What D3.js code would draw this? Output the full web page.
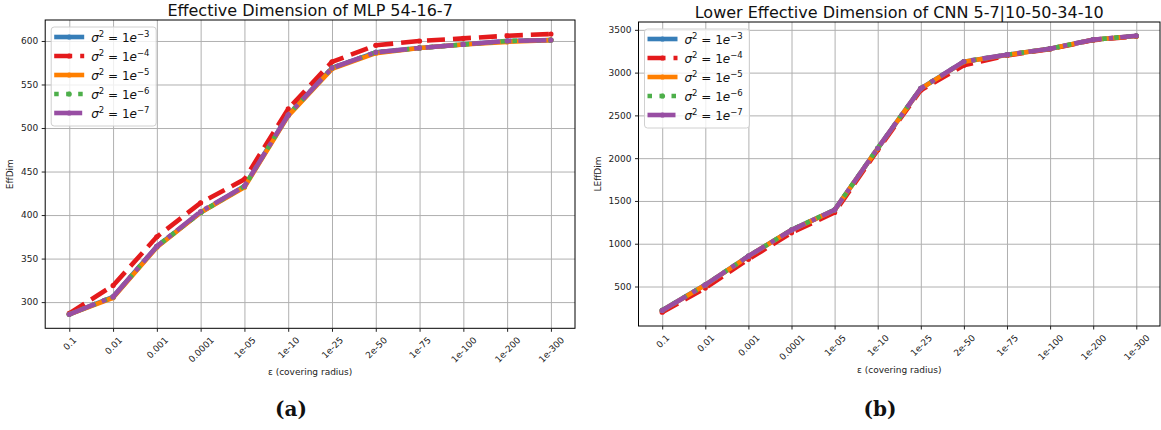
<!DOCTYPE html>
<html>
<head>
<meta charset="utf-8">
<script src="https://cdn.jsdelivr.net/npm/d3@7"></script>
<style>
  body { margin: 0; background: #fff; }
  svg { display: block; }
</style>
</head>
<body>
<div class="chart"></div>
<script>
// covering radius categories (shared by both panels)
var categories = ["0.1", "0.01", "0.001", "0.0001", "1e-05", "1e-10", "1e-25", "2e-50", "1e-75", "1e-100", "1e-200", "1e-300"];

// left panel: Effective Dimension of MLP 54-16-7
var mlpS3 = [286, 306, 364, 403, 433, 515, 569, 587, 592, 596, 600, 601];
var mlpS4 = [287, 319, 375, 414, 441, 522, 576, 595, 600, 603, 606, 608];
var mlpS5 = [286, 305, 363, 403, 432, 514, 568, 586, 592, 596, 599, 601];
var mlpS6 = [286, 306, 364, 403, 433, 515, 569, 587, 592, 596, 600, 601];
var mlpS7 = [286, 306, 364, 404, 433, 515, 569, 587, 592, 596, 600, 601];
var mlpTicks = [300, 350, 400, 450, 500, 550, 600];

// right panel: Lower Effective Dimension of CNN
var cnnS3 = [222, 520, 855, 1162, 1395, 2115, 2815, 3128, 3208, 3280, 3385, 3428];
var cnnS4 = [200, 482, 818, 1128, 1366, 2095, 2795, 3085, 3200, 3275, 3380, 3424];
var cnnS5 = [220, 518, 853, 1160, 1393, 2113, 2813, 3126, 3206, 3279, 3384, 3428];
var cnnS6 = [221, 520, 855, 1162, 1395, 2116, 2816, 3130, 3208, 3280, 3385, 3430];
var cnnS7 = [220, 519, 855, 1160, 1394, 2115, 2815, 3130, 3208, 3280, 3385, 3430];
var cnnTicks = [500, 1000, 1500, 2000, 2500, 3000, 3500];

var seriesNames = ["-3", "-4", "-5", "-6", "-7"];

// style per series (Set1 colours, matplotlib dash patterns)
var styles = [
  { color: "#377eb8", dash: null },
  { color: "#e41a1c", dash: "18,8" },
  { color: "#ff7f00", dash: null },
  { color: "#4daf4a", dash: "4.5,7.5" },
  { color: "#984ea3", dash: "28,7,4.5,7" }
];
var lw = 4.6;

var svgWidth = 1161;
var svgHeight = 430;

var svg = d3.select(".chart")
  .append("svg")
  .attr("width", svgWidth)
  .attr("height", svgHeight)
  .style("font-family", "'DejaVu Sans', sans-serif");

var panels = [
  { title: "Effective Dimension of MLP 54-16-7", ylabel: "EffDim", series: [mlpS3, mlpS4, mlpS5, mlpS6, mlpS7],
    ticks: mlpTicks, left: 45.2, right: 575, top: 20, bottom: 328.3, caption: "(a)", capX: 291, ylabOff: 32 },
  { title: "Lower Effective Dimension of CNN 5-7|10-50-34-10", ylabel: "LEffDim", series: [cnnS3, cnnS4, cnnS5, cnnS6, cnnS7],
    ticks: cnnTicks, left: 638.5, right: 1160, top: 22, bottom: 326, caption: "(b)", capX: 880, ylabOff: 38 }
];

panels.forEach(function(p) {
  var w = p.right - p.left;
  var h = p.bottom - p.top;

  var g = svg.append("g")
    .attr("transform", `translate(${p.left}, ${p.top})`);

  var x = d3.scalePoint()
    .domain(categories)
    .range([0, w])
    .padding(0.55);

  // y domain like matplotlib autoscale: data extent + 5% margins
  var all = d3.merge(p.series);
  var lo = d3.min(all), hi = d3.max(all);
  var pad = (hi - lo) * 0.05;
  var y = d3.scaleLinear()
    .domain([lo - pad, hi + pad])
    .range([h, 0]);

  // grid
  g.append("g")
    .attr("class", "grid")
    .attr("transform", `translate(0, ${h})`)
    .call(d3.axisBottom(x).tickSize(-h).tickFormat(""))
    .call(function(s) { s.select(".domain").remove(); });
  g.append("g")
    .attr("class", "grid")
    .call(d3.axisLeft(y).tickValues(p.ticks).tickSize(-w).tickFormat(""))
    .call(function(s) { s.select(".domain").remove(); });
  g.selectAll(".grid line").attr("stroke", "#b0b0b0").attr("stroke-width", 1);

  // lines
  var line = d3.line()
    .x(function(d, i) { return x(categories[i]); })
    .y(function(d) { return y(d); });

  p.series.forEach(function(vals, k) {
    var st = styles[k];
    g.append("path")
      .datum(vals)
      .attr("d", line)
      .attr("fill", "none")
      .attr("stroke", st.color)
      .attr("stroke-width", lw)
      .attr("stroke-dasharray", st.dash)
      .attr("stroke-linejoin", "round");
    g.append("g")
      .selectAll("circle")
      .data(vals)
      .join("circle")
      .attr("cx", function(d, i) { return x(categories[i]); })
      .attr("cy", function(d) { return y(d); })
      .attr("r", 2.6)
      .attr("fill", st.color);
  });

  // spines
  g.append("rect")
    .attr("width", w)
    .attr("height", h)
    .attr("fill", "none")
    .attr("stroke", "#000")
    .attr("stroke-width", 1);

  // x axis
  var xa = g.append("g")
    .attr("transform", `translate(0, ${h})`)
    .call(d3.axisBottom(x).tickSize(3.5).tickPadding(3.5));
  xa.select(".domain").remove();
  xa.selectAll("text")
    .attr("font-size", 9)
    .attr("font-family", "'DejaVu Sans', sans-serif")
    .attr("fill", "#222")
    .attr("text-anchor", "middle")
    .attr("dy", "0.35em")
    .attr("y", 0)
    .attr("transform", function() {
      var tl = this.getComputedTextLength();
      var off = 7 + (tl + 9) * 0.3536;
      return `translate(0, ${off}) rotate(-45)`;
    });

  // y axis
  var ya = g.append("g")
    .call(d3.axisLeft(y).tickValues(p.ticks).tickSize(3.5).tickPadding(3.5).tickFormat(d3.format("d")));
  ya.select(".domain").remove();
  ya.selectAll("text")
    .attr("font-size", 9)
    .attr("font-family", "'DejaVu Sans', sans-serif")
    .attr("fill", "#222");
  g.selectAll(".tick line").filter(function() { return !this.closest(".grid"); })
    .attr("stroke", "#222");

  // title and labels
  svg.append("text")
    .attr("x", p.left + w / 2)
    .attr("y", p.top - 4)
    .attr("text-anchor", "middle")
    .attr("font-size", 16)
    .attr("fill", "#111")
    .text(p.title);

  svg.append("text")
    .attr("x", p.left + w / 2)
    .attr("y", p.bottom + 47)
    .attr("text-anchor", "middle")
    .attr("font-size", 9)
    .attr("fill", "#222")
    .text("\u03b5 (covering radius)");

  svg.append("text")
    .attr("transform", `translate(${p.left - p.ylabOff}, ${p.top + h / 2}) rotate(-90)`)
    .attr("text-anchor", "middle")
    .attr("font-size", 9)
    .attr("fill", "#222")
    .text(p.ylabel);

  svg.append("text")
    .attr("x", p.capX)
    .attr("y", 416)
    .attr("text-anchor", "middle")
    .attr("font-family", "'DejaVu Serif', serif")
    .attr("font-weight", "bold")
    .attr("font-size", 20)
    .attr("fill", "#111")
    .text(p.caption);

  // legend
  var lg = g.append("g").attr("transform", "translate(6, 7)");
  lg.append("rect")
    .attr("width", 105)
    .attr("height", 99)
    .attr("rx", 3)
    .attr("fill", "#fff")
    .attr("fill-opacity", 0.8)
    .attr("stroke", "#d0d0d0");
  seriesNames.forEach(function(s, k) {
    var st = styles[k];
    var ry = 10 + k * 19;
    lg.append("line")
      .attr("x1", 3).attr("x2", 33)
      .attr("y1", ry).attr("y2", ry)
      .attr("stroke", st.color)
      .attr("stroke-width", lw)
      .attr("stroke-dasharray", st.dash);
    lg.append("circle")
      .attr("cx", 18).attr("cy", ry).attr("r", 2.6)
      .attr("fill", st.color);
    var t = lg.append("text")
      .attr("x", 40)
      .attr("y", ry + 4.5)
      .attr("font-size", 12)
      .attr("fill", "#111");
    t.append("tspan").attr("font-style", "italic").text("\u03c3");
    t.append("tspan").attr("font-size", 8.5).attr("dy", -5).text("2");
    t.append("tspan").attr("dy", 5).text(" = 1");
    t.append("tspan").attr("font-style", "italic").text("e");
    t.append("tspan").attr("font-size", 8.5).attr("dy", -5).text("\u2212" + s.slice(1));
  });
});
</script>
</body>
</html>
